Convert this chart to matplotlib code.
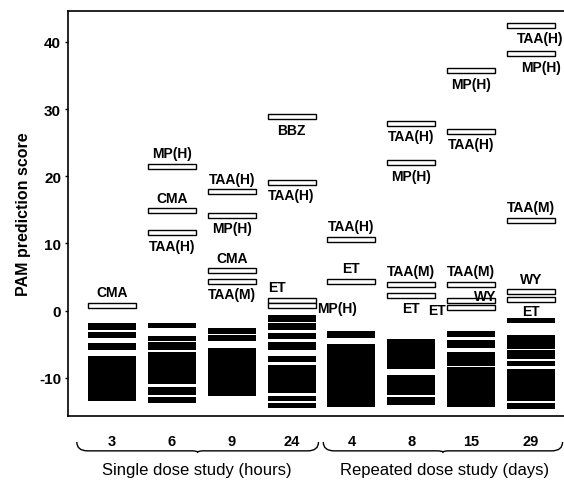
#!/usr/bin/env python3
import matplotlib
matplotlib.use('Agg')
import matplotlib.pyplot as plt
from matplotlib.path import Path
from matplotlib.patches import PathPatch
import matplotlib.transforms as mtransforms

plt.rcParams['font.family'] = ['Liberation Sans', 'DejaVu Sans']

# time points (single dose in hours, repeated dose in days)
timepoints = ['3', '6', '9', '24', '4', '8', '15', '29']

# score ranges covered by the negative (control) samples, per time point
neg_low = [
    [-2.9, -4.05, -5.8, -13.4],
    [-2.65, -4.5, -5.8, -11.0, -12.6, -13.7],
    [-3.5, -4.5, -12.7],
    [-1.67, -2.86, -4.24, -5.8, -7.6, -12.2, -13.4, -14.55],
    [-4.1, -14.4],
    [-8.7, -12.6, -14.1],
    [-4.0, -5.6, -8.3, -14.4],
    [-1.86, -5.7, -7.2, -8.3, -13.4, -14.7],
]
neg_high = [
    [-1.9, -3.15, -4.9, -6.7],
    [-1.86, -3.75, -4.7, -6.2, -11.4, -12.8],
    [-2.65, -3.6, -5.6],
    [-0.67, -1.86, -3.4, -4.7, -6.7, -8.1, -12.7, -13.7],
    [-3.0, -5.0],
    [-4.25, -9.6, -12.8],
    [-3.0, -4.35, -6.1, -8.4],
    [-1.16, -3.65, -5.9, -7.5, -8.7, -13.8],
]

# positive (toxic) compounds: group index, score, name
pos_group = [0, 1, 1, 1, 2, 2, 2, 2, 3, 3, 3, 3,
             4, 4, 5, 5, 5, 5, 6, 6, 6, 6, 6, 7, 7, 7, 7, 7]
pos_score = [0.8, 21.5, 14.85, 11.6, 17.7, 14.2, 5.9, 4.4, 28.9, 19.1, 1.5, 0.75,
             10.6, 4.4, 27.9, 22.0, 3.9, 2.3, 35.7, 26.7, 3.9, 1.45, 0.5,
             42.5, 38.3, 13.4, 2.8, 1.6]
pos_name = ['CMA', 'MP(H)', 'CMA', 'TAA(H)', 'TAA(H)', 'MP(H)', 'CMA', 'TAA(M)',
            'BBZ', 'TAA(H)', 'ET', 'MP(H)', 'TAA(H)', 'ET',
            'TAA(H)', 'MP(H)', 'TAA(M)', 'ET', 'MP(H)', 'TAA(H)', 'TAA(M)', 'WY', 'ET',
            'TAA(H)', 'MP(H)', 'TAA(M)', 'WY', 'ET']
# where each name is written relative to its bar
pos_where = ['above', 'above', 'above', 'below', 'above', 'below', 'above', 'below',
             'below', 'below', 'aboveleft', 'right', 'above', 'above',
             'below', 'below', 'above', 'below', 'below', 'below', 'above', 'aboveright', 'left',
             'below', 'below', 'above', 'above', 'below']

W = 0.8
fig = plt.figure(figsize=(5.64, 4.81), dpi=100)
ax = fig.add_axes([0.1206, 0.133, 0.879, 0.842])

for i in range(len(timepoints)):
    lo = neg_low[i]
    hi = neg_high[i]
    ax.bar([i] * len(lo), [h - l for l, h in zip(lo, hi)], bottom=lo,
           width=W, color='black', linewidth=0)

for g, s, name, where in zip(pos_group, pos_score, pos_name, pos_where):
    ax.bar(g, 0.75, bottom=s - 0.375, width=W, facecolor='white',
           edgecolor='black', linewidth=1.0)
    kw = dict(fontsize=10, fontweight='bold', va='center', textcoords='offset points')
    if where == 'above':
        ax.annotate(name, (g, s), xytext=(0, 9.5), ha='center', **kw)
    elif where == 'below':
        off = 7 if g == 7 and s > 30 else 0
        dy = -8 if g == 7 and s < 5 else -9.5
        ax.annotate(name, (g, s), xytext=(off, dy), ha='center', **kw)
    elif where == 'aboveleft':
        ax.annotate(name, (g - W / 2, s), xytext=(0, 9.5), ha='left', **kw)
    elif where == 'aboveright':
        ax.annotate(name, (g + W / 2, s), xytext=(1, 3.5), ha='right', **kw)
    elif where == 'right':
        ax.annotate(name, (g + W / 2, s), xytext=(1, -2), ha='left', **kw)
    elif where == 'left':
        ax.annotate(name, (g - W / 2, s), xytext=(-1, -2), ha='right', **kw)

ax.set_xlim(-0.737, 7.55)
ax.set_ylim(-15.7, 44.6)
ax.set_yticks([-10, 0, 10, 20, 30, 40])
ax.set_yticklabels(['-10', '0', '10', '20', '30', '40'], fontsize=11, fontweight='bold')
ax.set_xticks(range(len(timepoints)))
ax.set_xticklabels(timepoints, fontsize=10.5, fontweight='bold')
ax.tick_params(axis='x', length=0, pad=13)
ax.tick_params(axis='y', length=2, width=1, pad=3)
ax.set_ylabel('PAM prediction score', fontsize=11.5, fontweight='bold', labelpad=6)
ax.spines['right'].set_visible(False)
for sp in ['top', 'left', 'bottom']:
    ax.spines[sp].set_linewidth(1.2)

# curly brackets under the time points
trans = mtransforms.blended_transform_factory(ax.transData, ax.transAxes)
def brace(x0, x1, y_end=-0.064, y_line=-0.086):
    xm = (x0 + x1) / 2
    verts = [(x0, y_end), (x0, y_line), (x0 + 0.18, y_line),
             (xm - 0.1, y_line), (xm, y_line), (xm, y_line - 0.004),
             (xm, y_line), (xm + 0.1, y_line),
             (x1 - 0.18, y_line), (x1, y_line), (x1, y_end)]
    codes = [Path.MOVETO, Path.CURVE3, Path.CURVE3,
             Path.LINETO, Path.CURVE3, Path.CURVE3,
             Path.CURVE3, Path.CURVE3,
             Path.LINETO, Path.CURVE3, Path.CURVE3]
    ax.add_patch(PathPatch(Path(verts, codes), transform=trans, fill=False,
                           linewidth=1.0, edgecolor='black', clip_on=False))

brace(-0.59, 3.45)
brace(3.53, 7.53)
ax.text(1.42, -0.133, 'Single dose study (hours)', transform=trans,
        ha='center', va='center', fontsize=12)
ax.text(5.55, -0.133, 'Repeated dose study (days)', transform=trans,
        ha='center', va='center', fontsize=12)

fig.savefig('out.png', dpi=100)
